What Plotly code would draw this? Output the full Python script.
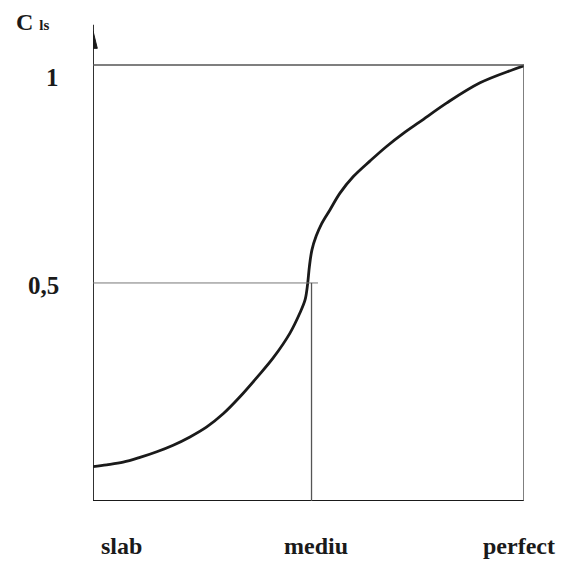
import plotly.graph_objects as go

# Data (x: quality score 0..100, y: C_ls)
curve_x = [0, 3.2, 7.0, 10.9, 14.8, 18.6, 22.5, 26.4, 30.2, 34.1, 38.1, 41.8, 45.7, 48.0,
           49.2, 49.8, 50.2, 50.8, 51.8, 53.0, 55.0, 57.3, 60.4, 64.3, 68.1, 72.0, 75.9,
           82.1, 89.8, 97.4, 100]
curve_y = [0.079, 0.083, 0.089, 0.100, 0.113, 0.128, 0.147, 0.170, 0.200, 0.239, 0.284,
           0.328, 0.385, 0.431, 0.461, 0.498, 0.537, 0.576, 0.608, 0.635, 0.668, 0.706,
           0.744, 0.780, 0.813, 0.843, 0.870, 0.913, 0.959, 0.989, 0.998]
cat_labels = ["slab", "mediu", "perfect"]
cat_pos = [6.7, 51.7, 98.8]
mid_x = 50.7
y_ticks = [0.5, 1.0]
y_ticktext = ["0,5", "1"]

X_RANGE = [0, 100]
Y_RANGE = [0, 1.103]

def px_(x):
    return (x - X_RANGE[0]) / (X_RANGE[1] - X_RANGE[0])

def py_(y):
    return (y - Y_RANGE[0]) / (Y_RANGE[1] - Y_RANGE[0])

FONT = "Liberation Serif"
INK = "#1a1a1a"
GRID = "#555555"

fig = go.Figure()
fig.add_trace(go.Scatter(x=curve_x, y=curve_y, mode="lines",
                         line=dict(color=INK, width=2.8, shape="spline", smoothing=1.0),
                         hoverinfo="skip", showlegend=False))

shapes = [
    # y axis with arrow
    dict(type="line", x0=0, x1=0, y0=0, y1=1.092, line=dict(color=INK, width=1.8)),
    dict(type="path", path="M -1.0 1.038 L 1.0 1.038 L 0 1.078 Z",
         fillcolor=INK, line=dict(color=INK, width=1)),
    # x axis
    dict(type="line", x0=0, x1=100, y0=0, y1=0, line=dict(color=INK, width=1.8)),
    # line at 1
    dict(type="line", x0=-1.6, x1=100, y0=1, y1=1, line=dict(color=GRID, width=1.5)),
    dict(type="line", x0=100, x1=100, y0=-0.01, y1=1, line=dict(color=GRID, width=1.5)),
    # line at 0.5
    dict(type="line", x0=-1.4, x1=52.2, y0=0.5, y1=0.5, line=dict(color="#777777", width=1)),
    dict(type="line", x0=mid_x, x1=mid_x, y0=0, y1=0.5, line=dict(color=GRID, width=1.3)),
]

annotations = []
for lab, pos in zip(cat_labels, cat_pos):
    annotations.append(dict(x=px_(pos), y=py_(-0.103), xref="paper", yref="paper",
                            xanchor="center", yanchor="middle",
                            text=f"<b>{lab}</b>", showarrow=False,
                            font=dict(family=FONT, size=24, color=INK)))
ytick_x = {0.5: -11.6, 1.0: -9.3}
ytick_y = {0.5: 0.495, 1.0: 0.972}
for v, t in zip(y_ticks, y_ticktext):
    annotations.append(dict(x=px_(ytick_x[v]), y=py_(ytick_y[v]), xref="paper", yref="paper",
                            xanchor="center", yanchor="middle",
                            text=f"<b>{t}</b>", showarrow=False,
                            font=dict(family=FONT, size=25, color=INK)))
annotations.append(dict(x=px_(-18.3), y=py_(1.099), xref="paper", yref="paper",
                        xanchor="left", yanchor="middle",
                        text="<b>C <span style='font-size:15px'>ls</span></b>",
                        showarrow=False, font=dict(family=FONT, size=24, color=INK)))

fig.update_layout(
    width=558, height=559,
    margin=dict(l=85, r=42, t=12, b=66),
    paper_bgcolor="white", plot_bgcolor="white",
    xaxis=dict(range=X_RANGE, visible=False, fixedrange=True),
    yaxis=dict(range=Y_RANGE, visible=False, fixedrange=True),
    shapes=shapes, annotations=annotations,
)
fig.write_html("out.html")
